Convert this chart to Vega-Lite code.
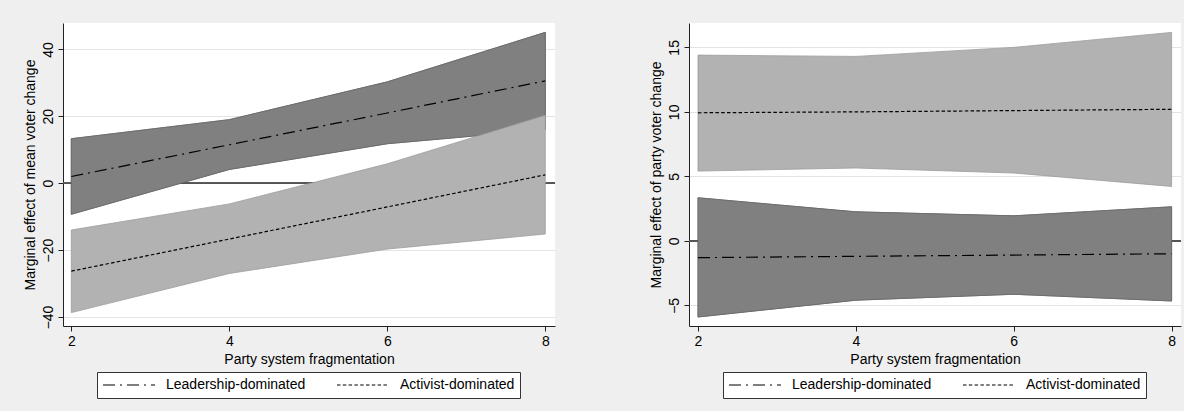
{
  "$schema": "https://vega.github.io/schema/vega-lite/v6.json",
  "background": "#efefef",
  "padding": {"left": 23, "top": 23, "right": 5, "bottom": 12},
  "config": {
    "font": "Liberation Sans",
    "view": {"stroke": null, "fill": "white"},
    "axis": {
      "labelFont": "Liberation Sans", "titleFont": "Liberation Sans",
      "labelFontSize": 14, "titleFontSize": 14, "titleFontWeight": "normal",
      "labelColor": "black", "titleColor": "black",
      "domainColor": "#222", "tickColor": "#222", "tickSize": 5,
      "gridColor": "#e4e4e4", "labelPadding": 3
    },
    "legend": {
      "labelFont": "Liberation Sans", "labelFontSize": 14, "labelColor": "black"
    }
  },
  "datasets": {
    "d": [
      {"panel": "A", "g": "Leadership-dominated", "x": 2, "est": 2.0, "lo": -9.3, "hi": 13.3},
      {"panel": "A", "g": "Leadership-dominated", "x": 4, "est": 11.5, "lo": 4.1, "hi": 19.0},
      {"panel": "A", "g": "Leadership-dominated", "x": 6, "est": 21.0, "lo": 11.8, "hi": 30.3},
      {"panel": "A", "g": "Leadership-dominated", "x": 8, "est": 30.6, "lo": 16.0, "hi": 45.1},
      {"panel": "A", "g": "Activist-dominated", "x": 2, "est": -26.3, "lo": -38.7, "hi": -14.0},
      {"panel": "A", "g": "Activist-dominated", "x": 4, "est": -16.7, "lo": -27.0, "hi": -6.2},
      {"panel": "A", "g": "Activist-dominated", "x": 6, "est": -7.1, "lo": -19.7, "hi": 5.8},
      {"panel": "A", "g": "Activist-dominated", "x": 8, "est": 2.5, "lo": -15.2, "hi": 20.3},
      {"panel": "B", "g": "Leadership-dominated", "x": 2, "est": -1.3, "lo": -5.9, "hi": 3.34},
      {"panel": "B", "g": "Leadership-dominated", "x": 4, "est": -1.2, "lo": -4.6, "hi": 2.25},
      {"panel": "B", "g": "Leadership-dominated", "x": 6, "est": -1.1, "lo": -4.14, "hi": 1.94},
      {"panel": "B", "g": "Leadership-dominated", "x": 8, "est": -1.0, "lo": -4.66, "hi": 2.64},
      {"panel": "B", "g": "Activist-dominated", "x": 2, "est": 9.93, "lo": 5.41, "hi": 14.4},
      {"panel": "B", "g": "Activist-dominated", "x": 4, "est": 10.0, "lo": 5.65, "hi": 14.3},
      {"panel": "B", "g": "Activist-dominated", "x": 6, "est": 10.1, "lo": 5.26, "hi": 15.0},
      {"panel": "B", "g": "Activist-dominated", "x": 8, "est": 10.2, "lo": 4.22, "hi": 16.16}
    ]
  },
  "spacing": 93,
  "resolve": {
    "scale": {"x": "independent", "y": "independent", "strokeDash": "independent"},
    "legend": {"strokeDash": "independent"}
  },
  "hconcat": [
    {
      "width": 492, "height": 303,
      "data": {"name": "d"},
      "transform": [{"filter": "datum.panel == 'A'"}],
      "layer": [
        {
          "transform": [{"filter": "datum.g == 'Leadership-dominated'"}],
          "mark": {"type": "area", "color": "#808080", "stroke": "#6a6a6a", "strokeWidth": 0.8, "opacity": 1},
          "encoding": {
            "x": {"field": "x", "type": "quantitative", "scale": {"domain": [1.895, 8.123], "nice": false, "zero": false},
                  "axis": {"values": [2, 4, 6, 8], "format": "d", "grid": false, "title": "Party system fragmentation", "titlePadding": 4}},
            "y": {"field": "lo", "type": "quantitative", "scale": {"domain": [-42.7, 47.9], "nice": false, "zero": false},
                  "axis": {"values": [-40, -20, 0, 20, 40], "grid": true, "title": "Marginal effect of mean voter change",
                           "labelAngle": 270, "labelAlign": "center", "labelBaseline": "bottom", "titlePadding": 4}},
            "y2": {"field": "hi"}
          }
        },
        {
          "mark": {"type": "rule", "color": "#555555", "strokeWidth": 1},
          "encoding": {"y": {"datum": 0, "type": "quantitative"}}
        },
        {
          "transform": [{"filter": "datum.g == 'Leadership-dominated'"}],
          "mark": {"type": "area", "color": "#808080", "stroke": "#6a6a6a", "strokeWidth": 0.8, "opacity": 1},
          "encoding": {
            "x": {"field": "x", "type": "quantitative"},
            "y": {"field": "lo", "type": "quantitative"},
            "y2": {"field": "hi"}
          }
        },
        {
          "transform": [{"filter": "datum.g == 'Activist-dominated'"}],
          "mark": {"type": "area", "color": "#b2b2b2", "stroke": "#9c9c9c", "strokeWidth": 0.8, "opacity": 1},
          "encoding": {
            "x": {"field": "x", "type": "quantitative"},
            "y": {"field": "lo", "type": "quantitative"},
            "y2": {"field": "hi"}
          }
        },
        {
          "mark": {"type": "line", "color": "black", "strokeWidth": 1.2},
          "encoding": {
            "x": {"field": "x", "type": "quantitative"},
            "y": {"field": "est", "type": "quantitative"},
            "strokeDash": {
              "field": "g", "type": "nominal",
              "scale": {"domain": ["Leadership-dominated", "Activist-dominated"], "range": [[12, 5, 2, 5], [3.5, 2.3]]},
              "legend": {"title": null, "orient": "none", "legendX": 34, "legendY": 349, "direction": "horizontal", "symbolType": "stroke",
                         "symbolSize": 2704, "symbolStrokeWidth": 1.2, "symbolStrokeColor": "black", "clipHeight": 16,
                         "labelOffset": 10, "columnPadding": 30, "padding": 5, "strokeColor": "#333333",
                         "fillColor": "white", "gridAlign": "none"}
            }
          }
        }
      ]
    },
    {
      "width": 492, "height": 303,
      "data": {"name": "d"},
      "transform": [{"filter": "datum.panel == 'B'"}],
      "layer": [
        {
          "transform": [{"filter": "datum.g == 'Leadership-dominated'"}],
          "mark": {"type": "area", "color": "#808080", "stroke": "#6a6a6a", "strokeWidth": 0.8, "opacity": 1},
          "encoding": {
            "x": {"field": "x", "type": "quantitative", "scale": {"domain": [1.886, 8.119], "nice": false, "zero": false},
                  "axis": {"values": [2, 4, 6, 8], "format": "d", "grid": false, "title": "Party system fragmentation", "titlePadding": 4}},
            "y": {"field": "lo", "type": "quantitative", "scale": {"domain": [-6.6, 16.89], "nice": false, "zero": false},
                  "axis": {"values": [-5, 0, 5, 10, 15], "grid": true, "title": "Marginal effect of party voter change",
                           "labelAngle": 270, "labelAlign": "center", "labelBaseline": "bottom", "titlePadding": 4}},
            "y2": {"field": "hi"}
          }
        },
        {
          "mark": {"type": "rule", "color": "#555555", "strokeWidth": 1},
          "encoding": {"y": {"datum": 0, "type": "quantitative"}}
        },
        {
          "transform": [{"filter": "datum.g == 'Leadership-dominated'"}],
          "mark": {"type": "area", "color": "#808080", "stroke": "#6a6a6a", "strokeWidth": 0.8, "opacity": 1},
          "encoding": {
            "x": {"field": "x", "type": "quantitative"},
            "y": {"field": "lo", "type": "quantitative"},
            "y2": {"field": "hi"}
          }
        },
        {
          "transform": [{"filter": "datum.g == 'Activist-dominated'"}],
          "mark": {"type": "area", "color": "#b2b2b2", "stroke": "#9c9c9c", "strokeWidth": 0.8, "opacity": 1},
          "encoding": {
            "x": {"field": "x", "type": "quantitative"},
            "y": {"field": "lo", "type": "quantitative"},
            "y2": {"field": "hi"}
          }
        },
        {
          "mark": {"type": "line", "color": "black", "strokeWidth": 1.2},
          "encoding": {
            "x": {"field": "x", "type": "quantitative"},
            "y": {"field": "est", "type": "quantitative"},
            "strokeDash": {
              "field": "g", "type": "nominal",
              "scale": {"domain": ["Leadership-dominated", "Activist-dominated"], "range": [[12, 5, 2, 5], [3.5, 2.3]]},
              "legend": {"title": null, "orient": "none", "legendX": 34, "legendY": 349, "direction": "horizontal", "symbolType": "stroke",
                         "symbolSize": 2704, "symbolStrokeWidth": 1.2, "symbolStrokeColor": "black", "clipHeight": 16,
                         "labelOffset": 10, "columnPadding": 30, "padding": 5, "strokeColor": "#333333",
                         "fillColor": "white", "gridAlign": "none"}
            }
          }
        }
      ]
    }
  ]
}
